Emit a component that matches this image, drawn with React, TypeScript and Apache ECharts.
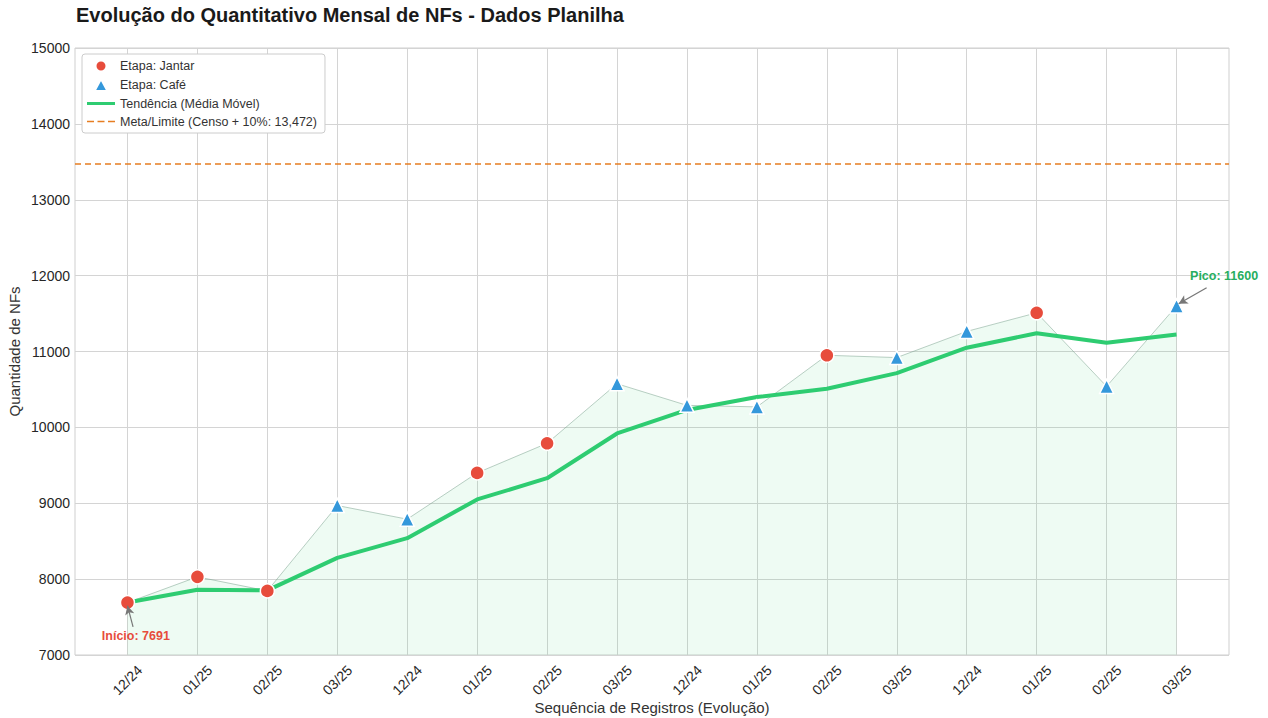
import React, { useEffect, useRef } from "react";
import * as echarts from "echarts";

const monthLabels = ["12/24", "01/25", "02/25", "03/25", "12/24", "01/25", "02/25", "03/25", "12/24", "01/25", "02/25", "03/25", "12/24", "01/25", "02/25", "03/25"];
const nfValues = [7691, 8030, 7845, 8970, 8790, 9400, 9790, 10575, 10290, 10270, 10950, 10920, 11265, 11510, 10540, 11600];
const stages = ["Jantar", "Jantar", "Jantar", "Café", "Café", "Jantar", "Jantar", "Café", "Café", "Café", "Jantar", "Café", "Café", "Jantar", "Café", "Café"];
const trendValues = [7691, 7860, 7852, 8280, 8540, 9050, 9330, 9920, 10230, 10400, 10510, 10715, 11050, 11240, 11115, 11225];
const metaValue = 13472;
const yTicks = { min: 7000, max: 15000, interval: 1000 };
const xRange = { min: -0.75, max: 15.75 };
// annotation anchors in data coords: text position, arrow tail, arrow head
const inicioAnno = { text: [0.12, 7250], tail: [0.08, 7370], head: [0, 7650] };
const picoAnno = { text: [15.68, 11995], tail: [15.43, 11840], head: [15.03, 11628] };

const FONT = "'Liberation Sans', Arial, sans-serif";

export default function App() {
  const ref = useRef<HTMLDivElement>(null);
  useEffect(() => {
    if (!ref.current) return;
    const chart = echarts.init(ref.current, undefined, { renderer: "svg" });
    const idx = nfValues.map((_, i) => i);
    const jantarData = idx.filter((i) => stages[i] === "Jantar").map((i) => [i, nfValues[i]]);
    const cafeData = idx.filter((i) => stages[i] === "Café").map((i) => [i, nfValues[i]]);
    const metaName = `Meta/Limite (Censo + 10%: ${metaValue.toLocaleString("en-US")})`;
    const peak = Math.max(...nfValues);
    chart.setOption({
      animation: false,
      textStyle: { fontFamily: FONT },
      title: {
        text: "Evolução do Quantitativo Mensal de NFs - Dados Planilha",
        left: 71,
        top: 0,
        textStyle: { fontSize: 20, fontWeight: "bold", color: "#1a1a1a", fontFamily: FONT },
      },
      legend: {
        orient: "vertical",
        left: 82,
        top: 54,
        backgroundColor: "#fff",
        borderColor: "#cccccc",
        borderWidth: 1,
        borderRadius: 3,
        padding: [5, 8, 5, 4],
        itemGap: 5,
        itemWidth: 28,
        itemHeight: 12,
        textStyle: { fontSize: 12.5, color: "#333", fontFamily: FONT },
        data: [
          { name: "Etapa: Jantar", icon: "path://M0,0M28,12M8.5,6A5.5,5.5,0,1,1,19.5,6A5.5,5.5,0,1,1,8.5,6Z" },
          { name: "Etapa: Café", icon: "path://M0,0M28,12M7.5,12L14,0L20.5,12Z" },
          { name: "Tendência (Média Móvel)", icon: "path://M0,0M28,12M0,4.5L28,4.5L28,7.5L0,7.5Z" },
          { name: metaName, icon: "path://M0,0M28,12M0,5.2L7,5.2L7,6.8L0,6.8ZM10.5,5.2L17.5,5.2L17.5,6.8L10.5,6.8ZM21,5.2L28,5.2L28,6.8L21,6.8Z" },
        ],
      },
      grid: {
        left: 75,
        right: 39,
        top: 48,
        bottom: 63,
        show: true,
        borderColor: "#cfcfcf",
        borderWidth: 1,
        outerBoundsMode: "none",
        containLabel: false,
      },
      xAxis: {
        type: "value",
        min: xRange.min,
        max: xRange.max,
        name: "Sequência de Registros (Evolução)",
        nameLocation: "middle",
        nameGap: 45,
        nameMoveOverlap: false,
        nameTextStyle: { fontSize: 15, color: "#333", fontFamily: FONT },
        axisLine: { show: false },
        axisTick: { show: false, customValues: idx },
        axisLabel: {
          customValues: idx,
          formatter: (v: number) => monthLabels[Math.round(v)] ?? "",
          rotate: 45,
          align: "center",
          verticalAlign: "middle",
          margin: 25,
          fontSize: 14,
          color: "#262626",
        },
        splitLine: { show: true, lineStyle: { color: "#d4d4d4", width: 1 } },
      },
      yAxis: {
        type: "value",
        min: yTicks.min,
        max: yTicks.max,
        interval: yTicks.interval,
        name: "Quantidade de NFs",
        nameLocation: "middle",
        nameGap: 53,
        nameMoveOverlap: false,
        nameTextStyle: { fontSize: 15, color: "#333", fontFamily: FONT },
        axisLine: { show: false },
        axisTick: { show: false },
        axisLabel: { fontSize: 14, color: "#262626", margin: 5, formatter: (v: number) => String(v) },
        splitLine: { show: true, lineStyle: { color: "#d4d4d4", width: 1 } },
      },
      series: [
        {
          name: "area",
          type: "line",
          data: idx.map((i) => [i, nfValues[i]]),
          showSymbol: false,
          symbol: "none",
          lineStyle: { color: "rgba(120,160,140,0.5)", width: 1 },
          areaStyle: { color: "rgba(46,204,113,0.12)", origin: "start" },
          z: 1,
          silent: true,
          markPoint: {
            symbol: "rect",
            symbolSize: 1,
            itemStyle: { color: "rgba(0,0,0,0)" },
            label: { show: true, fontWeight: "bold", fontSize: 12.5, fontFamily: FONT, position: "inside" },
            data: [
              { coord: inicioAnno.text, label: { formatter: `Início: ${nfValues[0]}`, color: "#e74c3c" } },
              { coord: picoAnno.text, label: { formatter: `Pico: ${peak}`, color: "#27ae60" } },
            ],
          },
          markLine: {
            silent: true,
            symbol: ["none", "arrow"],
            symbolSize: [7, 9],
            label: { show: false },
            lineStyle: { color: "#777", width: 1.2, type: "solid" },
            data: [
              [{ coord: inicioAnno.tail }, { coord: inicioAnno.head }],
              [{ coord: picoAnno.tail }, { coord: picoAnno.head }],
            ],
          },
        },
        {
          name: metaName,
          type: "line",
          data: [[xRange.min, metaValue], [xRange.max, metaValue]],
          symbol: "none",
          showSymbol: false,
          lineStyle: { color: "#e67e22", width: 1.6, type: [6, 4] },
          itemStyle: { color: "#e67e22" },
          z: 2,
        },
        {
          name: "Tendência (Média Móvel)",
          type: "line",
          data: idx.map((i) => [i, trendValues[i]]),
          symbol: "none",
          showSymbol: false,
          lineStyle: { color: "#2ecc71", width: 4 },
          itemStyle: { color: "#2ecc71" },
          z: 3,
        },
        {
          name: "Etapa: Jantar",
          type: "scatter",
          data: jantarData,
          symbol: "circle",
          symbolSize: 14,
          itemStyle: { color: "#e74c3c", borderColor: "#fff", borderWidth: 1.5, opacity: 1 },
          z: 4,
        },
        {
          name: "Etapa: Café",
          type: "scatter",
          data: cafeData,
          symbol: "triangle",
          symbolSize: 14,
          itemStyle: { color: "#3498db", borderColor: "#fff", borderWidth: 1.5, opacity: 1 },
          z: 4,
        },
      ],
    });
    return () => chart.dispose();
  }, []);
  return <div ref={ref} style={{ width: 1268, height: 718, position: "absolute", left: 0, top: 0 }} />;
}
